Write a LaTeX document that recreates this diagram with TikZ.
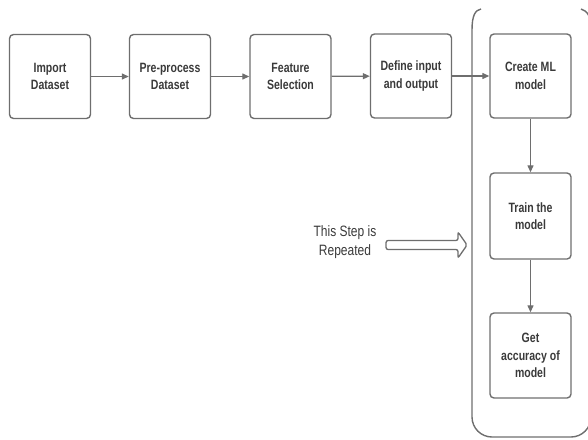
\documentclass[tikz,border=0pt]{standalone}
\usepackage{fontspec}
\newfontfamily\boxfont[FakeStretch=0.78]{Liberation Sans}
\newfontfamily\notefont[FakeStretch=0.8]{Liberation Sans}
\usetikzlibrary{arrows.meta,shapes.arrows}
\definecolor{lineg}{HTML}{6E6E6E}
\definecolor{textg}{HTML}{3A3A3A}
\tikzset{
  stepbox/.style={draw=lineg, line width=1.4pt, rounded corners=4pt, minimum width=81pt, minimum height=84pt, inner sep=2pt, align=center, text=textg, font=\boxfont\bfseries\fontsize{13.5}{17.5}\selectfont},
  flow/.style={draw=lineg, line width=1.3pt, -{Triangle[length=7pt,width=6pt]}},
  brk/.style={draw=lineg, line width=1.4pt},
}
\begin{document}
\begin{tikzpicture}[x=1pt,y=-1pt]
\useasboundingbox (0,0) rectangle (588,439);
\begin{scope}
\clip (0,0) rectangle (588,439);
\draw[brk] (481,9) .. controls (475,10) and (472,16) .. (472,30)
  [rounded corners=20pt] -- (472,437) -- (591,437) [sharp corners] -- (591,30)
  .. controls (591,17) and (588,11) .. (581,9);
\end{scope}
\node[stepbox] (b1) at (50,76.5) {Import\\Dataset};
\node[stepbox] (b2) at (170,76.5) {Pre-process\\Dataset};
\node[stepbox] (b3) at (290.5,76.5) {Feature\\Selection};
\node[stepbox] (b4) at (411,76) {Define input\\and output};
\node[stepbox] (b5) at (530.5,76) {Create ML\\model};
\node[stepbox, minimum height=86pt] (b6) at (530.5,216) {Train the\\model};
\node[stepbox, minimum height=85pt] (b7) at (530.5,355.5) {Get\\accuracy of\\model};
\draw[flow] (b1) -- (b2);
\draw[flow] (b2) -- (b3);
\draw[flow] (b3) -- (b4);
\draw[flow] (b4) -- (b5);
\draw[flow] (b5) -- (b6);
\draw[flow] (b6) -- (b7);
\node[align=center, text=textg, font=\notefont\fontsize{15}{19}\selectfont] (note) at (345,242) {This Step is\\Repeated};
\node[single arrow, draw=lineg, line width=1.3pt, fill=white, minimum height=81pt, minimum width=26pt, single arrow head extend=5pt, single arrow tip angle=110, inner sep=2pt, rounded corners=2pt] (rep) at (425,245) {};
\end{tikzpicture}
\end{document}
